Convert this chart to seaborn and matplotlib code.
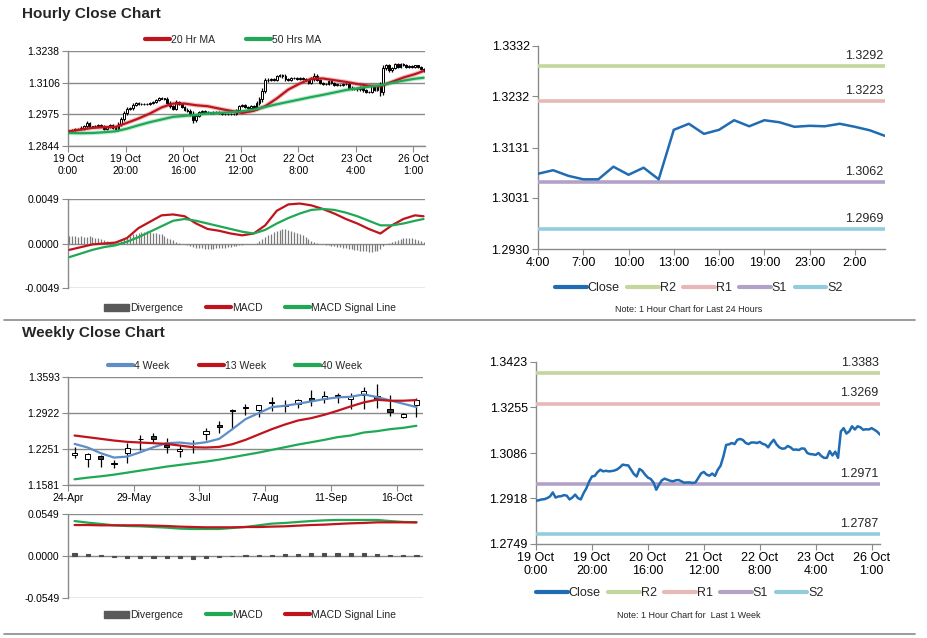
import numpy as np
import seaborn as sns
import matplotlib.pyplot as plt
from matplotlib.lines import Line2D
from matplotlib.patches import Patch

# ---------------- hourly data : 19 Oct 0:00 -> 26 Oct 1:00 ----------------
hourly_close = [
    1.2909, 1.2911, 1.2914, 1.2915, 1.2919, 1.2925, 1.2940, 1.2921, 1.2925, 1.2926,
    1.2930, 1.2928, 1.2914, 1.2921, 1.2932, 1.2919, 1.2914, 1.2937, 1.2955, 1.2980,
    1.2999, 1.3001, 1.3015, 1.3024, 1.3018, 1.3020, 1.3018, 1.3019, 1.3021, 1.3025,
    1.3033, 1.3043, 1.3041, 1.3040, 1.3024, 1.3008, 1.2999, 1.3027, 1.3020, 1.3006,
    1.2995, 1.2990, 1.2977, 1.2950, 1.2969, 1.2985, 1.2991, 1.2987, 1.2983, 1.2981,
    1.2985, 1.2986, 1.2981, 1.2976, 1.2977, 1.2977, 1.2975, 1.2977, 1.2993, 1.3010,
    1.3016, 1.3006, 1.3002, 1.3010, 1.3001, 1.3024, 1.3039, 1.3073, 1.3116, 1.3118,
    1.3123, 1.3119, 1.3135, 1.3138, 1.3134, 1.3123, 1.3119, 1.3125, 1.3125, 1.3123,
    1.3127, 1.3120, 1.3117, 1.3107, 1.3123, 1.3135, 1.3118, 1.3107, 1.3102, 1.3103,
    1.3112, 1.3107, 1.3098, 1.3099, 1.3097, 1.3103, 1.3102, 1.3086, 1.3082, 1.3081,
    1.3079, 1.3086, 1.3075, 1.3068, 1.3068, 1.3093, 1.3077, 1.3091, 1.3068, 1.3166,
    1.3178, 1.3158, 1.3166, 1.3185, 1.3173, 1.3185, 1.3181, 1.3172, 1.3174, 1.3173,
    1.3178, 1.3172, 1.3165, 1.3154,
]
hourly_first_open = 1.2907
# wick length beyond the body, in pips
hourly_wick = [
    3, 3, 4, 4, 6, 8, 8, 4, 4, 4,
    4, 4, 4, 4, 4, 4, 6, 6, 8, 8,
    8, 6, 6, 4, 4, 4, 4, 4, 4, 4,
    4, 4, 4, 4, 6, 6, 6, 6, 4, 4,
    4, 6, 8, 12, 8, 4, 4, 4, 4, 4,
    4, 4, 4, 4, 4, 4, 4, 4, 6, 6,
    4, 4, 4, 4, 4, 8, 10, 12, 10, 6,
    4, 4, 4, 4, 6, 8, 4, 4, 4, 4,
    4, 4, 4, 4, 6, 10, 6, 4, 4, 4,
    4, 4, 4, 4, 4, 4, 4, 6, 6, 6,
    6, 6, 6, 6, 6, 6, 6, 6, 18, 14,
    6, 6, 6, 4, 4, 4, 4, 4, 4, 4,
    4, 4, 4, 4,
]
hourly_labels = ["19 Oct\n0:00", "19 Oct\n20:00", "20 Oct\n16:00", "21 Oct\n12:00",
                 "22 Oct\n8:00", "23 Oct\n4:00", "26 Oct\n1:00"]

# moving averages / MACD read every 4 hours
ma_hours = [0, 4, 8, 12, 16, 20, 24, 28, 32, 36, 40, 44, 48, 52, 56, 60,
            64, 68, 72, 76, 80, 84, 88, 92, 96, 100, 104, 108, 112, 116, 120, 123]
ma20 = [1.2905, 1.2912, 1.2919, 1.2922, 1.2923, 1.2940, 1.2958, 1.2979, 1.3004, 1.3020,
        1.3020, 1.3013, 1.3009, 1.2999, 1.2990, 1.2981, 1.2990, 1.3009, 1.3041, 1.3078,
        1.3103, 1.3123, 1.3124, 1.3117, 1.3110, 1.3101, 1.3094, 1.3092, 1.3110, 1.3128,
        1.3142, 1.3155]
ma50 = [1.2898, 1.2897, 1.2898, 1.2901, 1.2905, 1.2916, 1.2930, 1.2943, 1.2954, 1.2965,
        1.2969, 1.2973, 1.2979, 1.2981, 1.2984, 1.2988, 1.2995, 1.3006, 1.3017, 1.3027,
        1.3037, 1.3047, 1.3056, 1.3066, 1.3076, 1.3083, 1.3090, 1.3096, 1.3106, 1.3115,
        1.3123, 1.3127]
macd_h = [-0.0007, -0.0004, -0.0001, 0.0000, 0.0001, 0.0006, 0.0017, 0.0024, 0.0031, 0.0032,
          0.0030, 0.0022, 0.0016, 0.0014, 0.0011, 0.0009, 0.0011, 0.0020, 0.0036, 0.0043,
          0.0044, 0.0042, 0.0038, 0.0033, 0.0027, 0.0022, 0.0016, 0.0011, 0.0020, 0.0027,
          0.0031, 0.0030]
signal_h = [-0.0015, -0.0011, -0.0007, -0.0004, -0.0002, 0.0002, 0.0007, 0.0013, 0.0019, 0.0025,
            0.0027, 0.0025, 0.0022, 0.0019, 0.0016, 0.0013, 0.0011, 0.0015, 0.0022, 0.0028,
            0.0033, 0.0037, 0.0038, 0.0037, 0.0034, 0.0030, 0.0025, 0.0020, 0.0020, 0.0022,
            0.0025, 0.0027]
diverg_h = [
    0.0008, 0.0008, 0.0008, 0.0007, 0.0008, 0.0007, 0.0007, 0.0008, 0.0007, 0.0006,
    0.0006, 0.0005, 0.0004, 0.0003, 0.0002, 0.0002, 0.0001, 0.0002, 0.0003, 0.0005,
    0.0006, 0.0008, 0.0010, 0.0011, 0.0012, 0.0013, 0.0013, 0.0014, 0.0013, 0.0012,
    0.0012, 0.0011, 0.0010, 0.0008, 0.0006, 0.0005, 0.0004, 0.0002, 0.0001, 0.0000,
    -0.0001, -0.0002, -0.0003, -0.0004, -0.0005, -0.0005, -0.0005, -0.0006, -0.0006, -0.0006,
    -0.0006, -0.0005, -0.0005, -0.0005, -0.0005, -0.0004, -0.0004, -0.0003, -0.0003, -0.0002,
    -0.0002, -0.0001, -0.0001, 0.0000, 0.0000, 0.0001, 0.0003, 0.0005, 0.0007, 0.0009,
    0.0011, 0.0013, 0.0014, 0.0015, 0.0016, 0.0016, 0.0015, 0.0014, 0.0013, 0.0012,
    0.0010, 0.0009, 0.0007, 0.0005, 0.0003, 0.0002, 0.0001, 0.0000, -0.0001, -0.0002,
    -0.0002, -0.0003, -0.0003, -0.0004, -0.0004, -0.0005, -0.0005, -0.0006, -0.0006, -0.0007,
    -0.0007, -0.0008, -0.0008, -0.0008, -0.0009, -0.0009, -0.0008, -0.0008, -0.0006, -0.0003,
    -0.0001, 0.0001, 0.0002, 0.0003, 0.0004, 0.0005, 0.0006, 0.0006, 0.0006, 0.0006,
    0.0005, 0.0004, 0.0003, 0.0002,
]

# support / resistance
day_labels = ["4:00", "7:00", "10:00", "13:00", "16:00", "19:00", "23:00", "2:00"]
day_yticks = [1.2930, 1.3031, 1.3131, 1.3232, 1.3332]
day_levels = [1.3292, 1.3223, 1.3062, 1.2969]
week_yticks = [1.2749, 1.2918, 1.3086, 1.3255, 1.3423]
week_levels = [1.3383, 1.3269, 1.2971, 1.2787]
level_names = ["R2", "R1", "S1", "S2"]

# ---------------- weekly data ----------------
weekly_labels = ["24-Apr", "29-May", "3-Jul", "7-Aug", "11-Sep", "16-Oct"]
weekly_open = [1.2135, 1.2061, 1.2123, 1.1998, 1.2173, 1.2441, 1.2491, 1.2322, 1.2216, 1.2297,
               1.2528, 1.2696, 1.2976, 1.3032, 1.2983, 1.3132, 1.3070, 1.3089, 1.3201, 1.3189,
               1.3251, 1.3183, 1.3263, 1.3245, 1.3001, 1.2846, 1.3070]
weekly_high = [1.2285, 1.2170, 1.2148, 1.2048, 1.2360, 1.2515, 1.2547, 1.2453, 1.2328, 1.2422,
               1.2640, 1.2777, 1.2995, 1.3089, 1.3080, 1.3219, 1.3170, 1.3182, 1.3344, 1.3325,
               1.3294, 1.3294, 1.3400, 1.3469, 1.3263, 1.2920, 1.3201]
weekly_low = [1.2079, 1.1924, 1.1911, 1.1892, 1.1986, 1.2235, 1.2360, 1.2173, 1.2110, 1.2185,
              1.2422, 1.2547, 1.2640, 1.2889, 1.2846, 1.2951, 1.2933, 1.3014, 1.3045, 1.3108,
              1.3108, 1.2995, 1.2995, 1.3014, 1.2870, 1.2821, 1.2846]
weekly_close = [1.2185, 1.2154, 1.2061, 1.1967, 1.2266, 1.2429, 1.2441, 1.2291, 1.2254, 1.2285,
                1.2578, 1.2659, 1.2964, 1.3014, 1.3076, 1.3107, 1.3058, 1.3170, 1.3170, 1.3245,
                1.3232, 1.3245, 1.3325, 1.3158, 1.2945, 1.2908, 1.3170]
ma4 = [1.2347, 1.2279, 1.2173, 1.2092, 1.2110, 1.2191, 1.2285, 1.2360, 1.2372, 1.2347,
       1.2378, 1.2441, 1.2621, 1.2808, 1.2920, 1.3032, 1.3057, 1.3095, 1.3138, 1.3182,
       1.3213, 1.3225, 1.3269, 1.3219, 1.3157, 1.3095, 1.3032]
ma13 = [1.2503, 1.2472, 1.2441, 1.2409, 1.2385, 1.2372, 1.2360, 1.2347, 1.2316, 1.2285,
        1.2279, 1.2291, 1.2341, 1.2422, 1.2522, 1.2621, 1.2708, 1.2783, 1.2827, 1.2889,
        1.2964, 1.3045, 1.3120, 1.3169, 1.3151, 1.3151, 1.3163]
ma40 = [1.1687, 1.1718, 1.1743, 1.1774, 1.1811, 1.1849, 1.1886, 1.1924, 1.1955, 1.1986,
        1.2017, 1.2054, 1.2098, 1.2142, 1.2185, 1.2235, 1.2285, 1.2335, 1.2378, 1.2422,
        1.2472, 1.2503, 1.2559, 1.2584, 1.2621, 1.2646, 1.2684]
macd_w = [0.0457, 0.0436, 0.0419, 0.0401, 0.0392, 0.0388, 0.0379, 0.0371, 0.0358, 0.0353,
          0.0353, 0.0353, 0.0366, 0.0379, 0.0401, 0.0423, 0.0432, 0.0445, 0.0457, 0.0466,
          0.0471, 0.0471, 0.0471, 0.0471, 0.0457, 0.0445, 0.0440]
signal_w = [0.0405, 0.0405, 0.0401, 0.0401, 0.0401, 0.0401, 0.0397, 0.0392, 0.0384, 0.0379,
            0.0375, 0.0375, 0.0375, 0.0379, 0.0379, 0.0384, 0.0388, 0.0397, 0.0405, 0.0410,
            0.0419, 0.0427, 0.0432, 0.0440, 0.0440, 0.0440, 0.0440]
diverg_w = [0.0045, 0.0020, 0.0008, -0.0008, -0.0020, -0.0020, -0.0020, -0.0020, -0.0030, -0.0035,
            -0.0026, -0.0016, 0.0000, 0.0008, 0.0016, 0.0018, 0.0022, 0.0026, 0.0034, 0.0035,
            0.0035, 0.0035, 0.0035, 0.0026, 0.0010, 0.0010, 0.0010]

# ---------------- style ----------------
W, H = 928, 638
GRAY = "#8a8a8a"
RED, GREEN, BLUE4 = "#c0141c", "#1fa955", "#5f8dc8"
CLOSE_C = "#1f6cb2"
LEVEL_C = ["#c3d69b", "#e6b9b8", "#b3a2c7", "#93cddd"]

sns.set_theme(style="white")
plt.rcParams["font.family"] = ["Liberation Sans", "DejaVu Sans"]

fig = plt.figure(figsize=(W / 100, H / 100), dpi=100)
fig.patch.set_facecolor("white")


def add_ax(left, top, right, bottom):
    return fig.add_axes([left / W, 1 - bottom / H, (right - left) / W, (bottom - top) / H])


def style(ax, grid=True, size=7.5):
    for s in ["top", "right"]:
        ax.spines[s].set_visible(False)
    for s in ["left", "bottom"]:
        ax.spines[s].set_color(GRAY)
        ax.spines[s].set_linewidth(1)
    ax.tick_params(axis="both", colors=GRAY, labelcolor="black", length=4, width=0.8,
                   labelsize=size, pad=2, left=True, bottom=True)
    if grid:
        ax.yaxis.grid(True, color=GRAY, linewidth=1)
    ax.set_axisbelow(True)
    ax.set_facecolor("white")


def candles(ax, x, o, h, l, c, width, lw, down_color):
    o, h, l, c = map(np.asarray, (o, h, l, c))
    ax.vlines(x, l, h, color="black", linewidth=lw, zorder=3)
    bottom = np.minimum(o, c)
    height = np.maximum(np.abs(c - o), (h.max() - l.min()) * 0.004)
    colors = np.where(c >= o, "white", down_color)
    ax.bar(x, height, bottom=bottom, width=width, color=colors, edgecolor="black",
           linewidth=lw * 0.8, zorder=4)


def line(ax, x, y, color, lw, glow=False):
    if glow:
        sns.lineplot(x=x, y=y, ax=ax, color=color, linewidth=lw + 1.6, alpha=0.25,
                     legend=False, sort=False, zorder=5)
    sns.lineplot(x=x, y=y, ax=ax, color=color, linewidth=lw, legend=False, sort=False, zorder=6)


def legend(handles, labels, cx, cy, size=7.5, hl=2.4, cs=3.0):
    fig.legend(handles, labels, loc="center", bbox_to_anchor=(cx / W, 1 - cy / H),
               ncol=len(handles), frameon=False, fontsize=size, handlelength=hl,
               handletextpad=0.1, columnspacing=cs, borderpad=0, borderaxespad=0)


def sep(y):
    fig.add_artist(Line2D([4 / W, 915 / W], [1 - y / H, 1 - y / H], color=GRAY, linewidth=1.2))


# ---------------- titles & separators ----------------
fig.text(22 / W, 1 - 14 / H, "Hourly Close Chart", fontsize=11, fontweight="bold", va="center")
fig.text(22 / W, 1 - 333 / H, "Weekly Close Chart", fontsize=11, fontweight="bold", va="center")
sep(320)
sep(634)

# ---------------- hourly candles ----------------
n_h = len(hourly_close)
xh = np.arange(n_h) + 0.5
h_open = [hourly_first_open] + hourly_close[:-1]
h_high = [max(o, c) + w * 0.0001 for o, c, w in zip(h_open, hourly_close, hourly_wick)]
h_low = [min(o, c) - w * 0.0001 for o, c, w in zip(h_open, hourly_close, hourly_wick)]

ax1 = add_ax(68, 51, 425, 146)
style(ax1)
candles(ax1, xh, h_open, h_high, h_low, hourly_close, 0.6, 0.9, "black")
xm = np.array(ma_hours) + 0.5
line(ax1, xm, ma20, RED, 1.6, glow=True)
line(ax1, xm, ma50, GREEN, 1.6, glow=True)
ax1.set_xlim(0, n_h)
ax1.set_ylim(1.2844, 1.3238)
ax1.set_yticks([1.2844, 1.2975, 1.3106, 1.3238])
ax1.set_yticklabels(["1.2844", "1.2975", "1.3106", "1.3238"])
ax1.set_xticks(np.arange(0, n_h, 20))
ax1.set_xticklabels(hourly_labels, linespacing=1.25)
legend([Line2D([], [], color=RED, lw=3), Line2D([], [], color=GREEN, lw=3)],
       ["20 Hr MA", "50 Hrs MA"], 233, 40)

# ---------------- hourly MACD ----------------
ax2 = add_ax(68, 199, 425, 288)
style(ax2)
ax2.vlines(xh, 0, diverg_h, color="#7a7a7a", linewidth=0.9, zorder=3)
line(ax2, xm, macd_h, RED, 1.6)
line(ax2, xm, signal_h, GREEN, 1.6)
ax2.set_xlim(0, n_h)
ax2.set_ylim(-0.0049, 0.0049)
ax2.set_yticks([-0.0049, 0.0, 0.0049])
ax2.set_yticklabels(["-0.0049", "0.0000", "0.0049"])
ax2.set_xticks([])
ax2.spines["bottom"].set_visible(False)
legend([Patch(color="#595959"), Line2D([], [], color=RED, lw=3), Line2D([], [], color=GREEN, lw=3)],
       ["Divergence", "MACD", "MACD Signal Line"], 250, 308, cs=2.2)


# ---------------- support / resistance charts ----------------
def levels_chart(ax, x, y, yticks, levels, xticks, xlabels, xmax):
    style(ax, grid=False, size=9)
    for v, c in zip(levels, LEVEL_C):
        sns.lineplot(x=[0, xmax], y=[v, v], ax=ax, color=c, linewidth=2.6, legend=False, zorder=3)
        ax.annotate(f"{v:.4f}", xy=(xmax, v), xytext=(-1, 3), textcoords="offset points",
                    ha="right", va="bottom", fontsize=9)
    line(ax, x, y, CLOSE_C, 1.8)
    ax.set_xlim(0, xmax)
    ax.set_ylim(yticks[0], yticks[-1])
    ax.set_yticks(yticks)
    ax.set_yticklabels([f"{t:.4f}" for t in yticks])
    ax.set_xticks(xticks)
    ax.set_xticklabels(xlabels, linespacing=1.1)


ax3 = add_ax(538, 46, 885, 249)
day_close = hourly_close[-24:]
levels_chart(ax3, np.arange(len(day_close)), day_close, day_yticks, day_levels,
             np.arange(0, 24, 3), day_labels, len(day_close) - 1)
lev_handles = [Line2D([], [], color=CLOSE_C, lw=3)] + [Line2D([], [], color=c, lw=3) for c in LEVEL_C]
legend(lev_handles, ["Close"] + level_names, 699, 288, size=9, hl=2.5, cs=0.6)
fig.text(689 / W, 1 - 310 / H, "Note: 1 Hour Chart for Last 24 Hours", fontsize=6.5,
         ha="center", va="center")

ax6 = add_ax(536, 362, 880, 544)
levels_chart(ax6, np.arange(n_h), hourly_close, week_yticks, week_levels,
             np.arange(0, n_h, 20), hourly_labels, n_h - 1)
legend(lev_handles, ["Close"] + level_names, 680, 593, size=9, hl=2.5, cs=0.6)
fig.text(689 / W, 1 - 615 / H, "Note: 1 Hour Chart for  Last 1 Week", fontsize=6.5,
         ha="center", va="center")

# ---------------- weekly candles ----------------
n_w = len(weekly_close)
xw = np.arange(n_w) + 0.5
ax4 = add_ax(68, 377, 423, 485)
style(ax4)
line(ax4, xw, ma4, BLUE4, 1.6)
line(ax4, xw, ma13, RED, 1.6)
line(ax4, xw, ma40, GREEN, 1.6)
candles(ax4, xw, weekly_open, weekly_high, weekly_low, weekly_close, 0.4, 0.9, "#3a3a3a")
ax4.set_xlim(0, n_w)
ax4.set_ylim(1.1581, 1.3593)
ax4.set_yticks([1.1581, 1.2251, 1.2922, 1.3593])
ax4.set_yticklabels(["1.1581", "1.2251", "1.2922", "1.3593"])
ax4.set_xticks(np.arange(0, n_w, 5))
ax4.set_xticklabels(weekly_labels)
legend([Line2D([], [], color=BLUE4, lw=3), Line2D([], [], color=RED, lw=3),
        Line2D([], [], color=GREEN, lw=3)], ["4 Week", "13 Week", "40 Week"], 235, 366, cs=2.8)

# ---------------- weekly MACD ----------------
ax5 = add_ax(68, 514, 423, 598)
style(ax5)
ax5.bar(xw, diverg_w, width=0.32, color="#4d4d4d", edgecolor="#4d4d4d", linewidth=0.8, zorder=3)
line(ax5, xw, macd_w, GREEN, 1.6)
line(ax5, xw, signal_w, RED, 1.6)
ax5.set_xlim(0, n_w)
ax5.set_ylim(-0.0549, 0.0549)
ax5.set_yticks([-0.0549, 0.0, 0.0549])
ax5.set_yticklabels(["-0.0549", "0.0000", "0.0549"])
ax5.set_xticks([])
ax5.spines["bottom"].set_visible(False)
legend([Patch(color="#595959"), Line2D([], [], color=GREEN, lw=3), Line2D([], [], color=RED, lw=3)],
       ["Divergence", "MACD", "MACD Signal Line"], 250, 615, cs=2.2)

fig.savefig("out.png", dpi=100, facecolor="white")
